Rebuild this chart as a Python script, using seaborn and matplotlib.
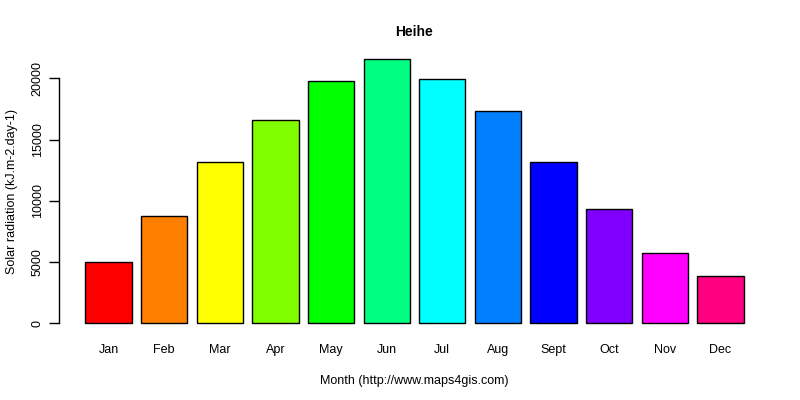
import seaborn as sns
import matplotlib.pyplot as plt
import pandas as pd

# Monatswerte der Solarstrahlung (kJ.m-2.day-1)
months = ['Jan', 'Feb', 'Mar', 'Apr', 'May', 'Jun',
          'Jul', 'Aug', 'Sept', 'Oct', 'Nov', 'Dec']
radiation = [4980, 8735, 13197, 16571, 19755, 21551,
             19918, 17306, 13143, 9306, 5714, 3837]
bar_colors = ['#FF0000', '#FF8000', '#FFFF00', '#80FF00', '#00FF00', '#00FF80',
              '#00FFFF', '#0080FF', '#0000FF', '#8000FF', '#FF00FF', '#FF0080']

df = pd.DataFrame({'Month': months, 'Radiation': radiation})

sns.set_style('white')
plt.rcParams['font.family'] = ['Liberation Sans', 'DejaVu Sans']
plt.rcParams['text.color'] = 'black'
plt.rcParams['axes.labelcolor'] = 'black'
plt.rcParams['xtick.color'] = 'black'
plt.rcParams['ytick.color'] = 'black'

fig = plt.figure(figsize=(8, 4), dpi=100)
ax = fig.add_axes([0.07375, 0.165, 0.88875, 0.713])

sns.barplot(data=df, x='Month', y='Radiation', hue='Month', palette=bar_colors,
            width=0.833, edgecolor='black', linewidth=1, saturation=1,
            legend=False, ax=ax)

ax.set_xlim(-0.89, 11.89)
ax.set_ylim(-862, 22413)
ax.set_yticks([0, 5000, 10000, 15000, 20000])
ax.set_yticklabels(['0', '5000', '10000', '15000', '20000'],
                   rotation=90, va='center', fontsize=9)
ax.tick_params(axis='y', length=7, width=1, color='black', pad=4, left=True)
ax.tick_params(axis='x', length=0, pad=7, labelsize=9)

for s in ['top', 'right', 'bottom']:
    ax.spines[s].set_visible(False)
ax.spines['left'].set_bounds(0, 20000)
ax.spines['left'].set_color('black')
ax.spines['left'].set_linewidth(1)

ax.set_title('Heihe', fontsize=10, fontweight='bold', pad=9)
ax.set_xlabel('Month (http://www.maps4gis.com)', fontsize=9, labelpad=14)
ax.set_ylabel('Solar radiation (kJ.m-2.day-1)', fontsize=9, labelpad=10)

fig.savefig('out.png', dpi=100)
